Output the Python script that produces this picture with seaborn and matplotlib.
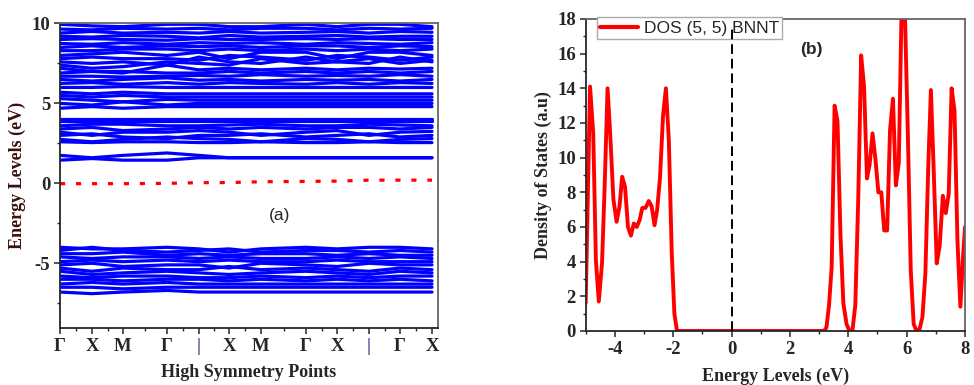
import matplotlib
matplotlib.use("Agg")
import pandas as pd
import matplotlib.pyplot as plt
import seaborn as sns

# ---- data: band structure (a) ----
k_labels = ["Γ", "X", "M", "Γ", "|", "X", "M", "Γ", "X", "|", "Γ", "X"]
k_nodes = [0, 32, 63, 107, 139, 169, 201, 246, 277, 309, 340, 372]
fermi_level = [-0.02, -0.02, -0.02, 0.0, 0.04, 0.05, 0.1, 0.12, 0.14, 0.2, 0.2, 0.2]

conduction_bands = [
    [1.45, 1.55, 1.45, 1.45, 1.6, 1.6, 1.6, 1.6, 1.6, 1.6, 1.6, 1.6],
    [1.75, 1.6, 1.75, 1.9, 1.75, 1.6, 1.6, 1.6, 1.6, 1.6, 1.6, 1.6],
    [2.6, 2.55, 2.6, 2.6, 2.55, 2.55, 2.6, 2.55, 2.55, 2.6, 2.55, 2.55],
    [2.75, 2.6, 2.75, 2.9, 2.8, 2.75, 2.6, 2.8, 2.75, 2.6, 2.75, 2.8],
    [3.0, 3.1, 2.9, 2.8, 3.0, 3.0, 3.1, 2.9, 3.0, 3.1, 2.9, 3.0],
    [3.2, 3.0, 3.2, 3.2, 3.3, 3.2, 3.0, 3.2, 3.3, 3.0, 3.2, 3.25],
    [3.4, 3.5, 3.3, 3.4, 3.5, 3.4, 3.5, 3.4, 3.5, 3.5, 3.4, 3.5],
    [3.6, 3.7, 3.7, 3.6, 3.6, 3.65, 3.7, 3.6, 3.6, 3.7, 3.65, 3.6],
    [3.9, 3.9, 3.9, 3.9, 3.9, 3.9, 3.9, 3.9, 3.9, 3.9, 3.9, 3.9],
    [4.05, 4.05, 4.05, 4.05, 4.05, 4.05, 4.05, 4.05, 4.05, 4.05, 4.05, 4.05],
    [4.7, 4.8, 4.7, 4.8, 4.8, 4.8, 4.8, 4.8, 4.8, 4.8, 4.8, 4.8],
    [5.0, 4.9, 5.1, 4.9, 5.0, 5.0, 5.0, 5.0, 5.0, 5.0, 5.0, 5.0],
    [5.3, 5.2, 5.1, 5.25, 5.2, 5.2, 5.2, 5.2, 5.2, 5.2, 5.2, 5.2],
    [5.5, 5.4, 5.5, 5.4, 5.4, 5.4, 5.4, 5.4, 5.4, 5.4, 5.4, 5.4],
    [5.7, 5.6, 5.7, 5.6, 5.6, 5.6, 5.6, 5.6, 5.6, 5.6, 5.6, 5.6],
    [6.0, 6.0, 6.05, 6.0, 6.0, 6.0, 6.0, 6.0, 6.0, 6.0, 6.0, 6.0],
    [6.25, 6.3, 6.2, 6.3, 6.2, 6.3, 6.25, 6.2, 6.3, 6.2, 6.3, 6.25],
    [6.5, 6.4, 6.5, 6.6, 6.45, 6.5, 6.4, 6.5, 6.45, 6.5, 6.4, 6.5],
    [6.7, 6.7, 6.65, 6.7, 6.75, 6.7, 6.8, 6.7, 6.75, 6.7, 6.8, 6.7],
    [6.9, 7.0, 7.0, 6.9, 6.9, 7.0, 6.9, 7.0, 6.9, 7.0, 6.9, 7.0],
    [7.2, 7.0, 6.9, 7.4, 7.1, 7.2, 7.1, 7.2, 7.1, 7.2, 7.15, 7.2],
    [7.4, 7.2, 7.3, 7.6, 7.5, 7.4, 7.8, 7.5, 7.6, 7.8, 7.5, 7.7],
    [7.6, 7.5, 7.6, 7.4, 7.9, 7.6, 7.5, 7.9, 7.6, 7.5, 7.9, 7.6],
    [7.8, 7.9, 7.8, 7.8, 7.7, 8.0, 7.9, 7.7, 8.0, 7.9, 7.7, 7.9],
    [8.0, 8.1, 8.2, 8.0, 8.2, 7.8, 8.2, 8.2, 7.8, 8.2, 8.2, 8.0],
    [8.3, 8.3, 8.4, 8.4, 8.3, 8.4, 8.3, 8.4, 8.3, 8.4, 8.3, 8.4],
    [8.5, 8.6, 8.5, 8.6, 8.55, 8.6, 8.5, 8.6, 8.6, 8.5, 8.6, 8.55],
    [8.75, 8.7, 8.8, 8.7, 8.8, 8.75, 8.8, 8.7, 8.8, 8.75, 8.7, 8.8],
    [9.0, 9.05, 9.0, 8.95, 9.05, 9.0, 9.0, 9.05, 9.0, 9.05, 9.0, 9.0],
    [9.2, 9.15, 9.25, 9.2, 9.1, 9.25, 9.15, 9.2, 9.25, 9.15, 9.2, 9.2],
    [9.4, 9.5, 9.4, 9.45, 9.4, 9.5, 9.4, 9.45, 9.5, 9.4, 9.5, 9.45],
    [9.65, 9.6, 9.7, 9.65, 9.7, 9.6, 9.7, 9.7, 9.6, 9.7, 9.65, 9.7],
    [9.95, 9.85, 9.8, 9.95, 9.95, 9.8, 9.8, 9.95, 9.8, 9.95, 9.95, 9.8],
]

valence_bands = [
    [-4.0, -4.1, -4.1, -4.0, -4.1, -4.3, -4.1, -4.0, -4.1, -4.0, -4.0, -4.1],
    [-4.2, -4.0, -4.2, -4.3, -4.2, -4.1, -4.3, -4.2, -4.2, -4.3, -4.2, -4.3],
    [-4.4, -4.4, -4.3, -4.5, -4.4, -4.5, -4.4, -4.4, -4.5, -4.4, -4.5, -4.5],
    [-4.6, -4.7, -4.6, -4.6, -4.7, -4.6, -4.7, -4.7, -4.6, -4.7, -4.6, -4.7],
    [-4.9, -4.8, -4.9, -4.8, -4.9, -4.8, -4.9, -4.9, -4.8, -4.9, -4.9, -4.9],
    [-5.1, -5.0, -5.2, -5.1, -5.1, -5.3, -5.0, -5.1, -5.2, -5.0, -5.1, -5.1],
    [-5.3, -5.5, -5.3, -5.4, -5.4, -5.2, -5.4, -5.3, -5.4, -5.5, -5.3, -5.4],
    [-5.5, -5.7, -5.6, -5.5, -5.6, -5.7, -5.6, -5.5, -5.6, -5.7, -5.5, -5.6],
    [-5.8, -5.9, -5.8, -5.8, -5.9, -5.9, -5.8, -5.9, -5.8, -5.9, -5.8, -5.8],
    [-6.0, -6.0, -6.1, -6.0, -6.0, -6.1, -6.0, -6.1, -6.0, -6.1, -6.0, -6.1],
    [-6.3, -6.2, -6.3, -6.2, -6.3, -6.3, -6.3, -6.3, -6.3, -6.3, -6.3, -6.3],
    [-6.5, -6.5, -6.6, -6.5, -6.5, -6.5, -6.5, -6.5, -6.5, -6.5, -6.5, -6.5],
    [-6.8, -6.9, -6.8, -6.7, -6.8, -6.8, -6.8, -6.8, -6.8, -6.8, -6.8, -6.8],
]

# ---- data: DOS (b) ----
dos_energy = [-5.0, -4.85, -4.74, -4.65, -4.55, -4.44, -4.35, -4.25, -4.16, -4.05,
              -3.94, -3.84, -3.75, -3.65, -3.55, -3.45, -3.35, -3.25, -3.15, -3.06,
              -2.95, -2.84, -2.74, -2.64, -2.55, -2.45, -2.35, -2.25, -2.15, -2.05,
              -1.96, -1.87, 3.17, 3.25, 3.34, 3.43, 3.53, 3.63, 3.73, 3.83,
              3.94, 4.04, 4.14, 4.24, 4.34, 4.44, 4.54, 4.64, 4.73, 4.83,
              4.93, 5.03, 5.13, 5.23, 5.33, 5.43, 5.53, 5.63, 5.73, 5.83,
              5.93, 6.04, 6.14, 6.24, 6.34, 6.44, 6.54, 6.64, 6.74, 6.83,
              6.93, 7.03, 7.13, 7.24, 7.34, 7.44, 7.54, 7.64, 7.74, 7.84,
              7.94, 8.0]
dos_values = [1.6, 14.1, 11.4, 4.1, 1.7, 3.9, 8.3, 14.0, 11.4, 7.6,
              6.3, 7.2, 8.9, 8.3, 6.0, 5.5, 6.2, 6.0, 6.4, 7.1,
              7.1, 7.5, 7.2, 6.1, 7.0, 8.9, 12.4, 14.0, 11.0, 4.5,
              1.0, 0.0, 0.0, 0.2, 1.5, 3.7, 13.0, 12.1, 5.6, 1.6,
              0.4, 0.0, 0.0, 1.5, 7.6, 15.9, 14.1, 8.8, 9.6, 11.4,
              9.9, 8.0, 8.0, 5.8, 5.8, 11.6, 13.4, 8.4, 9.7, 19.0,
              19.0, 11.4, 3.5, 0.4, 0.0, 0.1, 0.8, 3.3, 9.5, 13.9,
              9.1, 3.9, 4.9, 7.8, 6.8, 7.9, 14.0, 12.7, 5.2, 1.4,
              4.5, 6.0]

sns.set_style("ticks")
plt.rcParams["font.family"] = ["Liberation Serif", "DejaVu Serif"]
plt.rcParams["axes.linewidth"] = 1.3
plt.rcParams["axes.unicode_minus"] = False

rows = []
for i, band in enumerate(conduction_bands + valence_bands):
    for k, e in zip(k_nodes, band):
        rows.append({"band": i, "k": k, "E": e})
bands_df = pd.DataFrame(rows)

fig = plt.figure(figsize=(9.74, 3.85), dpi=100)
ax1 = fig.add_axes([0.0616, 0.148, 0.3878, 0.791])
ax2 = fig.add_axes([0.6013, 0.1403, 0.3895, 0.8104])

# ---- panel (a) ----
sns.lineplot(data=bands_df, x="k", y="E", units="band", estimator=None,
             color="#0000ff", linewidth=2.3, sort=False, legend=False, ax=ax1)
ax1.plot(k_nodes, fermi_level, color="red", linewidth=2.3,
         linestyle=(0, (1.6, 3.4)), dash_capstyle="butt")
ax1.set_xlim(0, 377.7)
ax1.set_ylim(-9.05, 10)
ax1.set_xticks(k_nodes)
ax1.set_xticklabels(k_labels)
ax1.set_xticks([(a + b) / 2 for a, b in zip(k_nodes[:-1], k_nodes[1:])], minor=True)
ax1.set_yticks([10, 5, 0, -5])
ax1.set_yticks([7.5, 2.5, -2.5, -7.5], minor=True)
for lab in ax1.get_xticklabels():
    if lab.get_text() == "|":
        lab.set_color("#4b3b8f")
ax1.tick_params(which="major", direction="out", length=4, width=1.1,
                labelsize=13.5, pad=3)
ax1.tick_params(which="minor", direction="out", length=2.5, width=1.0)
for lab in ax1.get_xticklabels() + ax1.get_yticklabels():
    lab.set_fontweight("bold")
ax1.set_xlabel("High Symmetry Points", fontsize=13, fontweight="bold", labelpad=7)
ax1.set_ylabel("Energy Levels (eV)", fontsize=13, fontweight="bold",
               color="#3d0f0f", labelpad=4)
ax1.text(220, -2.0, "(a)", fontsize=12.5, family=["Liberation Sans", "DejaVu Sans"],
         ha="center", va="center")
for s in ["top", "right"]:
    ax1.spines[s].set_color("#666666")

# ---- panel (b) ----
sns.lineplot(x=dos_energy, y=dos_values, color="red", linewidth=2.8,
             label="DOS (5, 5) BNNT", ax=ax2)
ax2.plot([0, 0], [0, 17.6], color="black", linewidth=1.4,
         linestyle=(0, (5, 2.5)), zorder=6)
ax2.set_xlim(-5, 8)
ax2.set_ylim(0, 18)
ax2.set_xticks([-4, -2, 0, 2, 4, 6, 8])
ax2.set_xticks(range(-5, 9), minor=True)
ax2.set_yticks(range(0, 19, 2))
ax2.set_yticks(range(0, 19), minor=True)
ax2.tick_params(which="major", direction="out", length=4, width=1.1,
                labelsize=13.5, pad=3)
ax2.tick_params(which="minor", direction="out", length=2.5, width=1.0)
for lab in ax2.get_xticklabels() + ax2.get_yticklabels():
    lab.set_fontweight("bold")
ax2.set_xlabel("Energy Levels (eV)", fontsize=13, fontweight="bold", labelpad=7)
ax2.set_ylabel("Density of States (a.u)", fontsize=13, fontweight="bold", labelpad=4)
ax2.text(2.72, 16.25, "(b)", fontsize=12.5, fontweight="bold",
         family=["Liberation Sans", "DejaVu Sans"], ha="center", va="center")
leg = ax2.legend(loc="upper left", bbox_to_anchor=(0.029, 1.006), borderaxespad=0,
                 prop={"family": ["Liberation Sans", "DejaVu Sans"], "size": 12.5},
                 handlelength=2.2, handletextpad=0.3, borderpad=0.2,
                 fancybox=False, framealpha=1, edgecolor="#aaaaaa")
leg.get_lines()[0].set_linewidth(3)
for s in ["top", "right"]:
    ax2.spines[s].set_color("#666666")

fig.savefig("out.png", dpi=100)
